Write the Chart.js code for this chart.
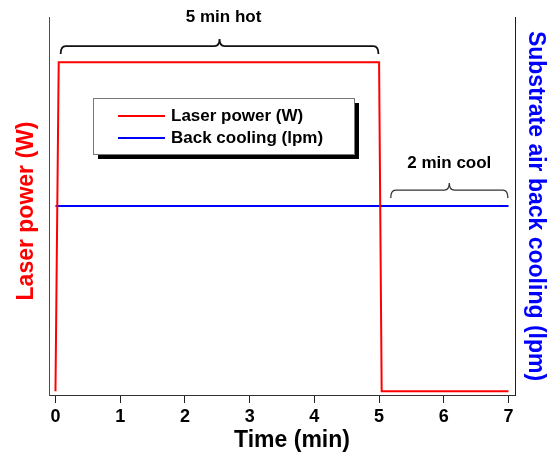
<!DOCTYPE html>
<html><head><meta charset="utf-8">
<script src="https://cdn.jsdelivr.net/npm/chart.js@4"></script>
<style>html,body{margin:0;padding:0;background:#fff}canvas{display:block}</style>
</head><body>
<canvas id="c" width="553" height="464"></canvas>
<script>
// ---- data ----
const timeLaser = [0, 0.05, 5.0, 5.04, 7.0];
const laserPower = [1, 88, 88, 1, 1];
const timeCooling = [0, 7.0];
const backCooling = [50, 50];
const xTicks = [0, 1, 2, 3, 4, 5, 6, 7];
const seriesNames = ['Laser power (W)', 'Back cooling (lpm)'];
const xTitle = 'Time (min)';
const yLeftTitle = 'Laser power (W)';
const yRightTitle = 'Substrate air back cooling (lpm)';
const braceLabels = ['5 min hot', '2 min cool'];
const braceStart = [0.08, 5.18];
const braceEnd = [4.99, 6.99];
const braceLevel = [92.3, 54.2];   // left-axis units
const braceTextLevel = [100, 61.4];

const FONT = "'Liberation Sans', Arial, Helvetica, sans-serif";

const bracePlugin = {
  id: 'braces',
  afterDatasetsDraw(chart) {
    const ctx = chart.ctx, xs = chart.scales.x, ys = chart.scales.y;
    for (let i = 0; i < braceLabels.length; i++) {
      const x1 = xs.getPixelForValue(braceStart[i]);
      const x2 = xs.getPixelForValue(braceEnd[i]);
      const yh = ys.getPixelForValue(braceLevel[i]);
      const xm = (x1 + x2) / 2;
      const hook = 8, peak = 7, r = 5;
      ctx.save();
      ctx.strokeStyle = i === 0 ? '#111' : '#333';
      ctx.lineWidth = i === 0 ? 1.8 : 1.3;
      ctx.beginPath();
      ctx.moveTo(x1, yh + hook);
      ctx.quadraticCurveTo(x1, yh, x1 + r, yh);
      ctx.lineTo(xm - r, yh);
      ctx.quadraticCurveTo(xm, yh, xm, yh - peak);
      ctx.quadraticCurveTo(xm, yh, xm + r, yh);
      ctx.lineTo(x2 - r, yh);
      ctx.quadraticCurveTo(x2, yh, x2, yh + hook);
      ctx.stroke();
      ctx.fillStyle = '#000';
      ctx.font = 'bold 17px ' + FONT;
      ctx.textAlign = 'center';
      ctx.textBaseline = 'middle';
      ctx.fillText(braceLabels[i], xm + (i === 0 ? 4 : 0), ys.getPixelForValue(braceTextLevel[i]));
      ctx.restore();
    }
  }
};

const titlePlugin = {
  id: 'shiftedTitles',
  afterDraw(chart) {
    const ctx = chart.ctx, ca = chart.chartArea;
    ctx.save();
    ctx.font = 'bold 23px ' + FONT;
    ctx.textAlign = 'center';
    ctx.textBaseline = 'middle';
    ctx.fillStyle = '#000';
    ctx.fillText(xTitle, (ca.left + ca.right) / 2 + 10, 441);
    ctx.translate(27, (ca.top + ca.bottom) / 2 + 5);
    ctx.rotate(-Math.PI / 2);
    ctx.fillStyle = '#ff0000';
    ctx.fillText(yLeftTitle, 0, 0);
    ctx.restore();
  }
};

const legendPlugin = {
  id: 'boxLegend',
  afterDatasetsDraw(chart) {
    const ctx = chart.ctx, ca = chart.chartArea;
    const lx = ca.left + 44, ly = ca.top + 81, lw = 261, lh = 56;
    ctx.save();
    ctx.fillStyle = '#000';
    ctx.fillRect(lx + 5, ly + 5, lw, lh);
    ctx.fillStyle = '#fff';
    ctx.fillRect(lx, ly, lw, lh);
    ctx.strokeStyle = '#777';
    ctx.lineWidth = 1;
    ctx.strokeRect(lx + 0.5, ly + 0.5, lw, lh);
    chart.data.datasets.forEach((ds, i) => {
      const y = ly + 18 + i * 22;
      ctx.strokeStyle = ds.borderColor;
      ctx.lineWidth = 2;
      ctx.beginPath();
      ctx.moveTo(lx + 25, y);
      ctx.lineTo(lx + 72, y);
      ctx.stroke();
      ctx.fillStyle = '#000';
      ctx.font = 'bold 17px ' + FONT;
      ctx.textAlign = 'left';
      ctx.textBaseline = 'middle';
      ctx.fillText(ds.label, lx + 78, y);
    });
    ctx.restore();
  }
};

new Chart(document.getElementById('c'), {
  type: 'line',
  data: {
    datasets: [
      {
        label: seriesNames[0],
        data: timeLaser.map((t, i) => ({ x: t, y: laserPower[i] })),
        borderColor: '#ff0000', borderWidth: 2, pointRadius: 0, tension: 0,
        yAxisID: 'y', fill: false
      },
      {
        label: seriesNames[1],
        data: timeCooling.map((t, i) => ({ x: t, y: backCooling[i] })),
        borderColor: '#0000ff', borderWidth: 2, pointRadius: 0, tension: 0,
        yAxisID: 'y2', fill: false
      }
    ]
  },
  options: {
    responsive: false,
    animation: false,
    layout: { padding: { top: 17, left: 0, right: 0, bottom: 0 } },
    plugins: { legend: { display: false }, tooltip: { enabled: false } },
    scales: {
      x: {
        type: 'linear', position: 'bottom', min: -0.1, max: 7.1,
        afterBuildTicks: s => { s.ticks = xTicks.map(v => ({ value: v })); },
        afterFit: s => { s.height = 69; },
        grid: { display: true, drawOnChartArea: false, drawTicks: true, tickLength: 8, color: '#222', lineWidth: 1 },
        border: { display: true, color: '#333', width: 1 },
        ticks: { color: '#000', font: { family: FONT, size: 18, weight: 'bold' }, padding: 3, maxRotation: 0, autoSkip: false },
        title: { display: false, text: xTitle }
      },
      y: {
        position: 'left', min: 0, max: 100,
        afterFit: s => { s.width = 49; },
        grid: { display: false },
        ticks: { display: false },
        border: { display: true, color: '#ff0000', width: 1 },
        title: { display: false, text: yLeftTitle }
      },
      y2: {
        position: 'right', min: 0, max: 100,
        afterFit: s => { s.width = 38; },
        grid: { display: false },
        ticks: { display: false },
        border: { display: true, color: '#0000ff', width: 1 },
        title: { display: true, text: yRightTitle, color: '#0000ff', font: { family: FONT, size: 23, weight: 'bold' }, padding: { top: 4, bottom: 0 } }
      }
    }
  },
  plugins: [bracePlugin, legendPlugin, titlePlugin]
});
</script>
</body></html>
